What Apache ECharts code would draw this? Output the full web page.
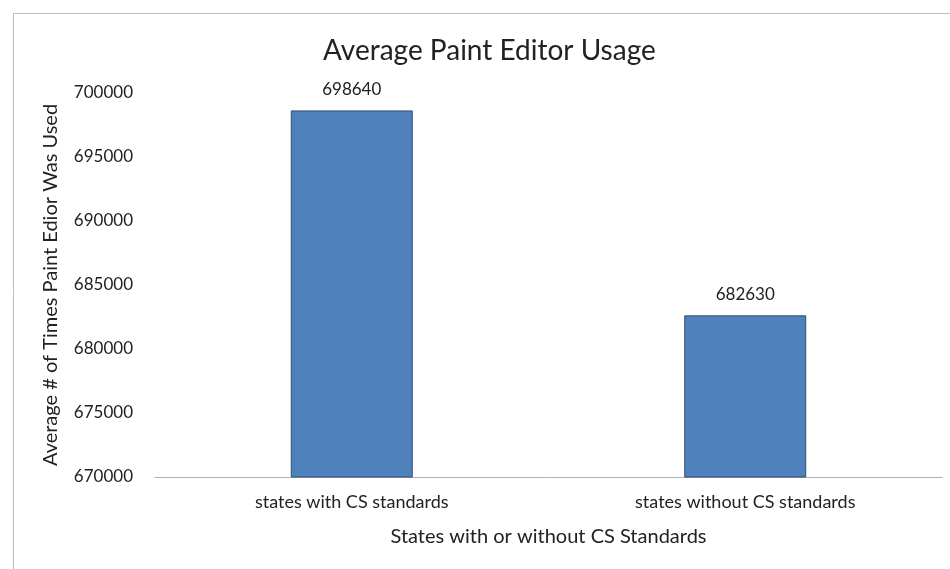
<!DOCTYPE html>
<html>
<head>
<meta charset="utf-8">
<script src="https://cdn.jsdelivr.net/npm/echarts@6/dist/echarts.min.js"></script>
<style>
  html, body { margin: 0; padding: 0; background: #fff; }
  #chart { width: 950px; height: 569px; }
</style>
</head>
<body>
<div id="chart"></div>
<script>
// Average paint editor usage by state group
const categories = ['states with CS standards', 'states without CS standards'];
const usageValues = [698640, 682630];
const yTicks = { min: 670000, max: 700000, interval: 5000 };

const font = 'Lato, "Open Sans", sans-serif';
const chart = echarts.init(document.getElementById('chart'));

chart.setOption({
  backgroundColor: '#ffffff',
  animation: false,
  graphic: [{
    type: 'rect',
    shape: { x: 13.5, y: 13.5, width: 2000, height: 2000 },
    style: { fill: 'none', stroke: '#bdbdbd', lineWidth: 1 },
    silent: true
  }],
  title: {
    text: 'Average Paint Editor Usage',
    left: 318,
    top: 32,
    textStyle: { fontFamily: font, fontSize: 28, fontWeight: 'normal', color: '#222' }
  },
  grid: { left: 155, right: 8, top: 93, bottom: 92 },
  xAxis: {
    type: 'category',
    data: categories,
    name: 'States with or without CS Standards',
    nameLocation: 'middle',
    nameGap: 50,
    nameTextStyle: { fontFamily: font, fontSize: 20, color: '#222' },
    axisLine: { lineStyle: { color: '#b0b0b0', width: 1 } },
    axisTick: { show: false },
    axisLabel: { fontFamily: font, fontSize: 18, color: '#222', margin: 16 }
  },
  yAxis: {
    type: 'value',
    min: yTicks.min,
    max: yTicks.max,
    interval: yTicks.interval,
    name: 'Average # of Times Paint Edior Was Used',
    nameLocation: 'middle',
    nameGap: 86,
    nameTextStyle: { fontFamily: font, fontSize: 20, color: '#222', padding: [0, 0, 8, 0] },
    axisLine: { show: false },
    axisTick: { show: false },
    splitLine: { show: false },
    axisLabel: {
      fontFamily: font, fontSize: 17, color: '#222', margin: 22,
      formatter: (v) => String(v)
    }
  },
  series: [{
    type: 'bar',
    data: usageValues,
    barWidth: '31%',
    itemStyle: { color: '#4f81bd', borderColor: '#2c4d75', borderWidth: 1 },
    label: {
      show: true,
      position: 'top',
      distance: 12,
      fontFamily: font,
      fontSize: 17,
      color: '#222'
    }
  }]
});
</script>
</body>
</html>
